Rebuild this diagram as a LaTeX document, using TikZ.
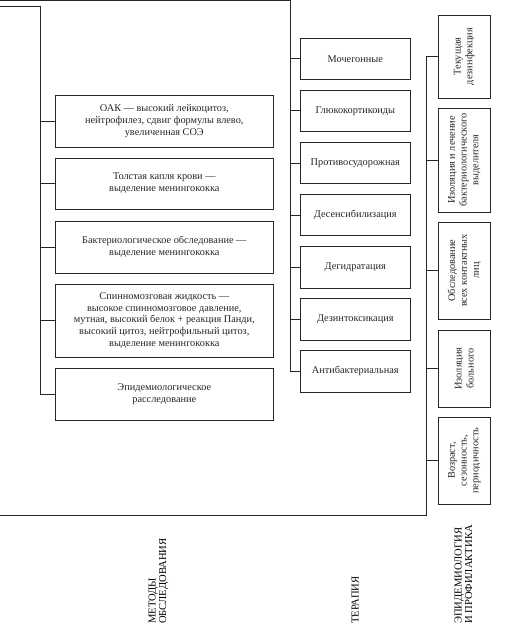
\documentclass[tikz,border=0pt]{standalone}
\usepackage{fontspec}
\setmainfont{Liberation Serif}
\begin{document}
\begin{tikzpicture}[x=1pt,y=-1pt,
  line/.style={line width=0.8pt,black!85},
  boxL/.style={draw,line width=0.9pt,black!85,minimum width=218pt,inner sep=2pt,align=center,font=\fontsize{10.3}{11.8}\selectfont},
  boxT/.style={draw,line width=0.9pt,black!85,minimum width=109.3pt,minimum height=41.5pt,inner sep=2pt,align=center,font=\fontsize{10.3}{11.8}\selectfont},
  boxR/.style={draw,line width=0.9pt,black!85,rotate=90,minimum height=52.7pt,inner sep=2pt,align=center,font=\fontsize{10.3}{11.8}\selectfont},
  lbl/.style={rotate=90,anchor=west,inner sep=0pt,align=left,font=\fontsize{10.6}{10.5}\selectfont}]
\useasboundingbox (0,0) rectangle (531,636);
% left column boxes
\node[boxL,minimum height=52pt] (oak) at (164.3,121) {ОАК — высокий лейкоцитоз,\\нейтрофилез, сдвиг формулы влево,\\увеличенная СОЭ};
\node[boxL,minimum height=51pt] (kap) at (164.3,183.5) {Толстая капля крови —\\выделение менингококка};
\node[boxL,minimum height=52pt] (bak) at (164.3,247) {Бактериологическое обследование —\\выделение менингококка};
\node[boxL,minimum height=73pt] (spm) at (164.3,320.5) {Спинномозговая жидкость —\\высокое спинномозговое давление,\\мутная, высокий белок + реакция Панди,\\высокий цитоз, нейтрофильный цитоз,\\выделение менингококка};
\node[boxL,minimum height=52pt] (epi) at (164.3,394) {Эпидемиологическое\\расследование};
% therapy boxes
\node[boxT] (t1) at (355.3,58.8) {Мочегонные};
\node[boxT] (t2) at (355.3,110.9) {Глюкокортикоиды};
\node[boxT] (t3) at (355.3,163) {Противосудорожная};
\node[boxT] (t4) at (355.3,215.1) {Десенсибилизация};
\node[boxT] (t5) at (355.3,267.2) {Дегидратация};
\node[boxT] (t6) at (355.3,319.3) {Дезинтоксикация};
\node[boxT] (t7) at (355.3,371.4) {Антибактериальная};
% epidemiology boxes
\node[boxR,minimum width=83pt] (r1) at (464.3,56.5) {Текущая\\дезинфекция};
\node[boxR,minimum width=104pt] (r2) at (464.3,160) {Изоляция и лечение\\бактериологического\\выделителя};
\node[boxR,minimum width=97pt] (r3) at (464.3,270.5) {Обследование\\всех контактных\\лиц};
\node[boxR,minimum width=77pt] (r4) at (464.3,368.5) {Изоляция\\больного};
\node[boxR,minimum width=87pt] (r5) at (464.3,460.5) {Возраст,\\сезонность,\\периодичность};
% bottom labels
\node[lbl] (l1) at (158.5,624) {МЕТОДЫ\\ОБСЛЕДОВАНИЯ};
\node[lbl] (l2) at (355,624) {ТЕРАПИЯ};
\node[lbl] (l3) at (463.5,624) {ЭПИДЕМИОЛОГИЯ\\И ПРОФИЛАКТИКА};
% bus coordinates
\coordinate (lA) at (0,6);
\coordinate (lB) at (40.3,6);
\coordinate (tA) at (0,0.7);
\coordinate (tB) at (290.7,0.7);
\coordinate (bA) at (0,515.7);
\coordinate (bB) at (426,515.7);
% left bus
\draw[line] (lA) -- (lB) -- (lB |- epi.west) -- (epi.west);
\foreach \n in {oak,kap,bak,spm} \draw[line] (\n.west) -- (\n.west -| lB);
% therapy bus
\draw[line] (tA) -- (tB) -- (tB |- t7.west) -- (t7.west);
\foreach \n in {t1,t2,t3,t4,t5,t6} \draw[line] (\n.west) -- (\n.west -| tB);
% epidemiology bus
\draw[line] (bA) -- (bB) -- (bB |- r1.north) -- (r1.north);
\foreach \n in {r2,r3,r4,r5} \draw[line] (\n.north) -- (\n.north -| bB);
\end{tikzpicture}
\end{document}
